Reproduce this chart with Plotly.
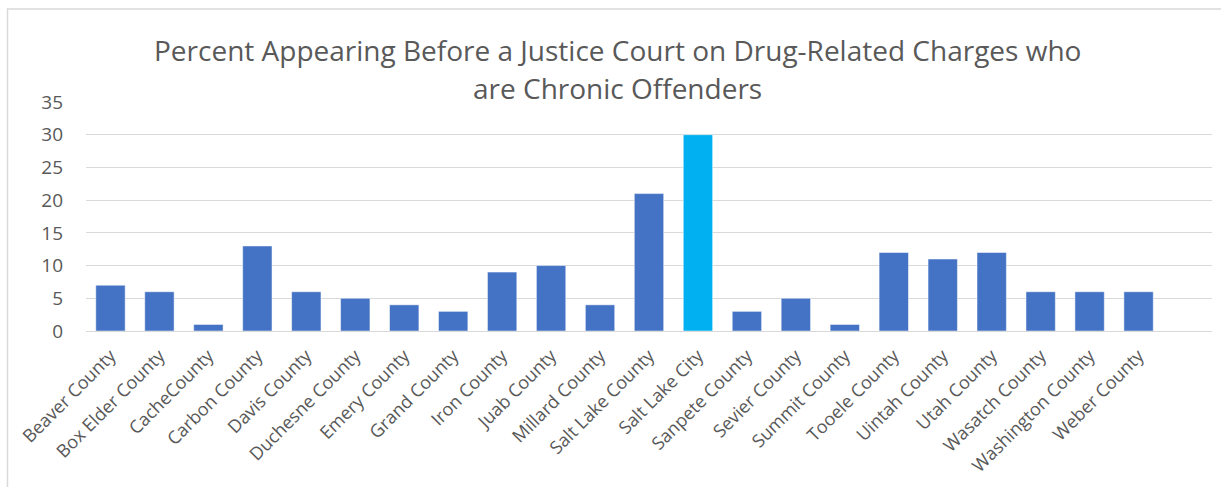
import plotly.graph_objects as go

categories = ["Beaver County", "Box Elder County", "CacheCounty", "Carbon County", "Davis County",
              "Duchesne County", "Emery County", "Grand County", "Iron County", "Juab County",
              "Millard County", "Salt Lake County", "Salt Lake City", "Sanpete County", "Sevier County",
              "Summit County", "Tooele County", "Uintah County", "Utah County", "Wasatch County",
              "Washington County", "Weber County"]
values = [7, 6, 1, 13, 6, 5, 4, 3, 9, 10, 4, 21, 30, 3, 5, 1, 12, 11, 12, 6, 6, 6]
highlight = "Salt Lake City"
y_ticks = [0, 5, 10, 15, 20, 25, 30, 35]
title_lines = ["Percent Appearing Before a Justice Court on Drug-Related Charges who",
               "are Chronic Offenders"]

colors = ["#00B0F0" if c == highlight else "#4472C4" for c in categories]
TXT = "#595959"
FONT = "Open Sans"

fig = go.Figure(go.Bar(
    x=categories, y=values,
    marker=dict(color=colors, line=dict(color="white", width=0.5)),
    hoverinfo="x+y",
))

L, R, T, B = 86, 9, 102, 156
W, H = 1221, 487

fig.update_layout(
    width=W, height=H,
    margin=dict(l=L, r=R, t=T, b=B),
    paper_bgcolor="white", plot_bgcolor="white",
    bargap=0.4,
    showlegend=False,
    font=dict(family=FONT, color=TXT),
    xaxis=dict(
        range=[-0.5, len(categories) + 0.5],
        tickangle=-45,
        tickfont=dict(size=18, color=TXT, family=FONT),
        showgrid=False, showline=True, linecolor="#D9D9D9", linewidth=1.3,
        ticks="", ticklabelstandoff=6,
    ),
    yaxis=dict(
        range=[0, 35], tickvals=y_ticks,
        tickfont=dict(size=19, color=TXT, family=FONT),
        showgrid=True, gridcolor="#D9D9D9", gridwidth=1.3,
        zeroline=False, showline=False, ticks="",
        ticklabelstandoff=22,
    ),
)

pw = W - L - R
ph = H - T - B
cx = (617 - L) / pw
for i, (txt, yc) in enumerate(zip(title_lines, [50, 88])):
    fig.add_annotation(
        text=txt, xref="paper", yref="paper",
        x=cx, y=(H - B - yc) / ph, xanchor="center", yanchor="middle",
        showarrow=False, font=dict(size=28, color=TXT, family=FONT),
    )

# chart border (top and left visible)
fig.add_shape(type="rect", xref="paper", yref="paper",
              x0=(7.5 - L) / pw, x1=(W + 20 - L) / pw,
              y0=(H - B - (H + 20)) / ph, y1=(H - B - 9) / ph,
              line=dict(color="#D9D9D9", width=1.5), layer="below")

fig.write_html("out.html")
